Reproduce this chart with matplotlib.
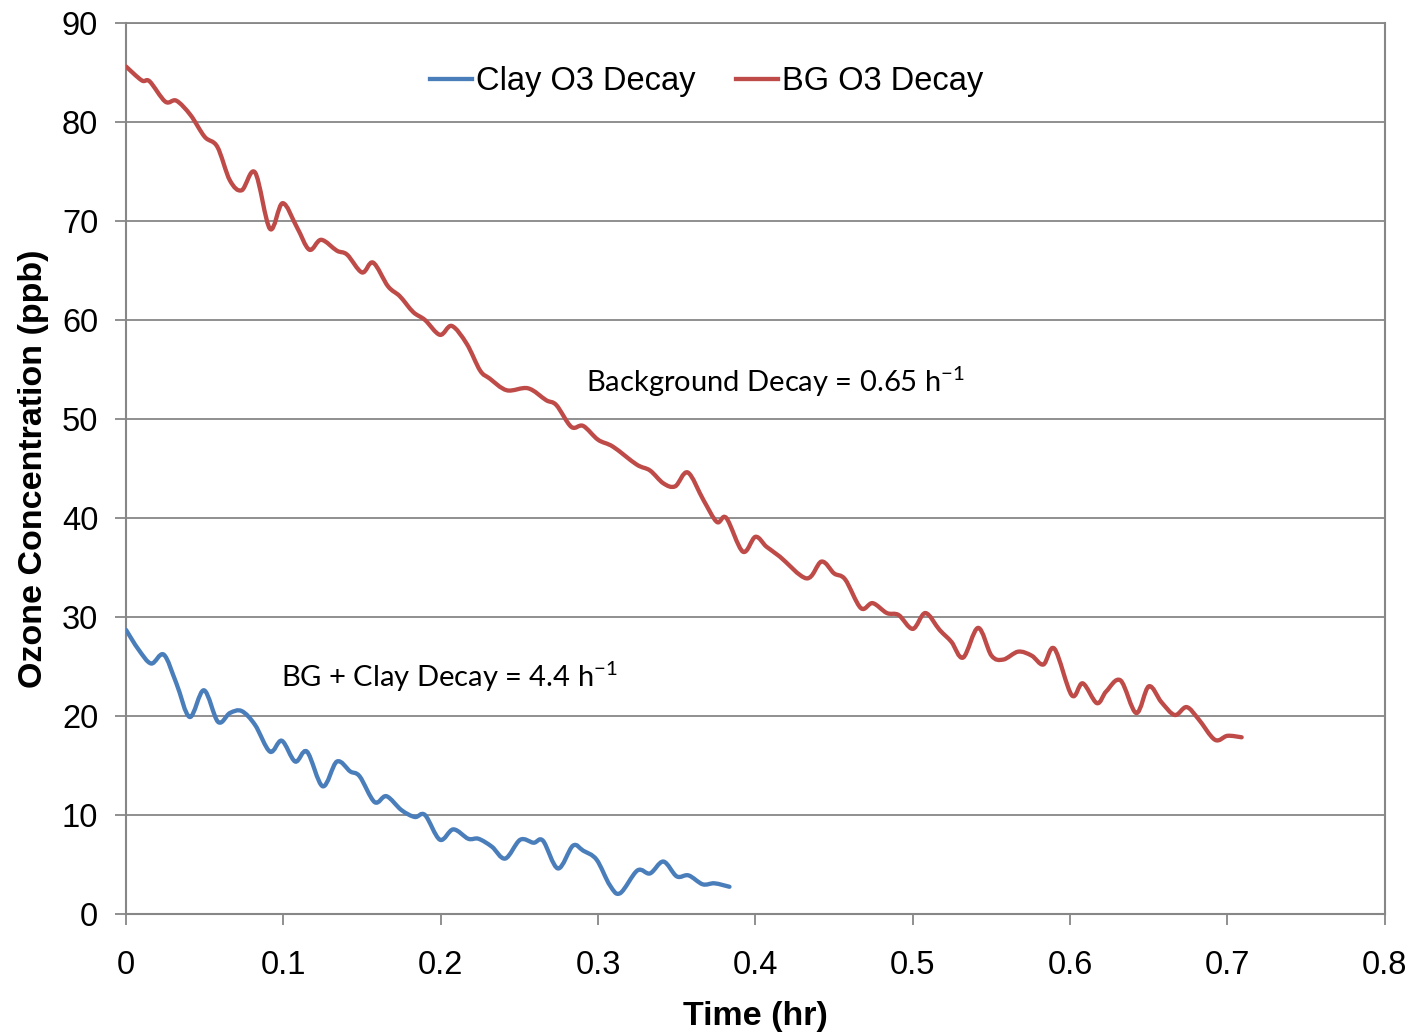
import numpy as np
import matplotlib
matplotlib.use("Agg")
from matplotlib import pyplot as plt
from matplotlib.path import Path
from matplotlib.patches import PathPatch
from matplotlib.lines import Line2D

# Valores (tempo em h, ozônio em ppb)
bg_t = [0, 0.010, 0.015, 0.025, 0.032, 0.041, 0.050, 0.058, 0.066, 0.0735,
        0.082, 0.0915, 0.0995, 0.1085, 0.1165, 0.124, 0.134, 0.1405, 0.150, 0.157,
        0.1665, 0.174, 0.1825, 0.190, 0.1995, 0.207, 0.2165, 0.225, 0.231, 0.242,
        0.2555, 0.267, 0.2735, 0.283, 0.2905, 0.300, 0.3095, 0.3245, 0.333, 0.3415,
        0.349, 0.357, 0.367, 0.3755, 0.3815, 0.392, 0.400, 0.407, 0.4155, 0.4325,
        0.442, 0.450, 0.457, 0.467, 0.4745, 0.4835, 0.491, 0.500, 0.508, 0.517,
        0.5245, 0.532, 0.5415, 0.550, 0.5575, 0.567, 0.5755, 0.583, 0.590, 0.601,
        0.608, 0.617, 0.623, 0.632, 0.642, 0.650, 0.658, 0.6665, 0.674, 0.6815,
        0.692, 0.700, 0.709]
bg_c = [85.6, 84.2, 84.1, 82.05, 82.15, 80.7, 78.5, 77.5, 74.1, 73.1,
        74.9, 69.2, 71.8, 69.4, 67.1, 68.1, 67.0, 66.6, 64.8, 65.8,
        63.4, 62.4, 60.8, 60.0, 58.5, 59.4, 57.6, 54.9, 54.1, 52.9,
        53.1, 51.9, 51.4, 49.2, 49.3, 47.9, 47.2, 45.4, 44.8, 43.5,
        43.2, 44.6, 41.8, 39.6, 40.0, 36.6, 38.1, 37.1, 36.1, 33.9,
        35.6, 34.4, 33.8, 30.9, 31.4, 30.4, 30.2, 28.8, 30.4, 28.7,
        27.5, 25.9, 28.9, 26.1, 25.7, 26.5, 26.1, 25.2, 26.8, 22.1,
        23.3, 21.3, 22.5, 23.6, 20.3, 23.0, 21.4, 20.1, 20.9, 19.7,
        17.6, 18.0, 17.85]

clay_t = [0, 0.008, 0.016, 0.024, 0.032, 0.0405, 0.0495, 0.0585, 0.066, 0.0735,
          0.082, 0.0915, 0.099, 0.1075, 0.115, 0.125, 0.134, 0.1425, 0.1485, 0.158,
          0.1655, 0.175, 0.1835, 0.190, 0.1995, 0.208, 0.2175, 0.224, 0.2325, 0.241,
          0.2505, 0.259, 0.265, 0.2745, 0.284, 0.2905, 0.299, 0.3075, 0.314, 0.325,
          0.333, 0.3415, 0.350, 0.3575, 0.3665, 0.374, 0.3835]
clay_c = [28.7, 26.7, 25.3, 26.2, 23.3, 19.9, 22.6, 19.4, 20.3, 20.5,
          19.1, 16.4, 17.5, 15.4, 16.4, 12.9, 15.4, 14.4, 13.9, 11.3,
          11.9, 10.5, 9.8, 10.0, 7.5, 8.55, 7.6, 7.6, 6.8, 5.6,
          7.5, 7.2, 7.4, 4.6, 6.9, 6.4, 5.5, 2.9, 2.1, 4.4,
          4.1, 5.3, 3.8, 3.9, 3.0, 3.1, 2.75]

x_ticks = [0, 0.1, 0.2, 0.3, 0.4, 0.5, 0.6, 0.7, 0.8]
x_labels = ["0", "0.1", "0.2", "0.3", "0.4", "0.5", "0.6", "0.7", "0.8"]
y_ticks = list(range(0, 91, 10))

azul = '#4A7EBB'
vermelho = '#BE4B48'
cinza = '#878787'


def linha_suave(ax, xs, ys, cor):
    # linha suavizada como no Excel: curvas de Bezier passando pelos pontos
    p = np.column_stack([xs, ys])
    ext = np.vstack([p[0], p, p[-1]])
    verts = [tuple(p[0])]
    codes = [Path.MOVETO]
    for i in range(len(p) - 1):
        p0, p1, p2, p3 = ext[i], ext[i + 1], ext[i + 2], ext[i + 3]
        c1 = p1 + (p2 - p0) / 6.0
        c2 = p2 - (p3 - p1) / 6.0
        verts += [tuple(c1), tuple(c2), tuple(p2)]
        codes += [Path.CURVE4] * 3
    patch = PathPatch(Path(verts, codes), facecolor='none', edgecolor=cor,
                      lw=3.1, capstyle='round', joinstyle='round', zorder=3)
    ax.add_patch(patch)


plt.rcParams['font.family'] = ['Liberation Sans', 'DejaVu Sans']
plt.rcParams['mathtext.fontset'] = 'custom'
plt.rcParams['mathtext.rm'] = 'Lato'
plt.rcParams['mathtext.it'] = 'Lato:italic'

fig = plt.figure(figsize=(14.16, 10.35), dpi=100)
ax = fig.add_axes([0.089, 0.1169, 0.889, 0.8609])

linha_suave(ax, clay_t, clay_c, azul)
linha_suave(ax, bg_t, bg_c, vermelho)

ax.set_xlim(0, 0.8)
ax.set_ylim(0, 90)
ax.set_xticks(x_ticks)
ax.set_xticklabels(x_labels)
ax.set_yticks(y_ticks)
ax.yaxis.grid(True, color=cinza, lw=1.3)
ax.set_axisbelow(True)

for lado in ['top', 'right', 'left', 'bottom']:
    ax.spines[lado].set_color(cinza)
    ax.spines[lado].set_linewidth(1.5)
ax.spines['top'].set_linewidth(1.3)
ax.tick_params(axis='both', colors=cinza, labelcolor='black', labelsize=23.5,
               length=8, width=1.3, direction='out')
ax.tick_params(axis='x', pad=18)
ax.tick_params(axis='y', pad=12)

ax.set_xlabel('Time (hr)', fontsize=24.5, fontweight='bold', labelpad=14)
ax.set_ylabel('Ozone Concentration (ppb)', fontsize=24.5, fontweight='bold', labelpad=9)

alcas = [Line2D([], [], color=azul, lw=3.1), Line2D([], [], color=vermelho, lw=3.1)]
ax.legend(alcas, ['Clay O3 Decay', 'BG O3 Decay'], loc='center',
          bbox_to_anchor=(0.461, 0.934), ncol=2, frameon=False, fontsize=23.5,
          handlelength=1.3, handletextpad=0.1, columnspacing=1.25)

ax.text(0.2923, 53.7, 'Background Decay = 0.65 h$^{-1}$', family='Lato',
        fontsize=21, va='center', ha='left')
ax.text(0.0985, 24.0, 'BG + Clay Decay = 4.4 h$^{-1}$', family='Lato',
        fontsize=21, va='center', ha='left')

fig.savefig('out.png', dpi=100)
